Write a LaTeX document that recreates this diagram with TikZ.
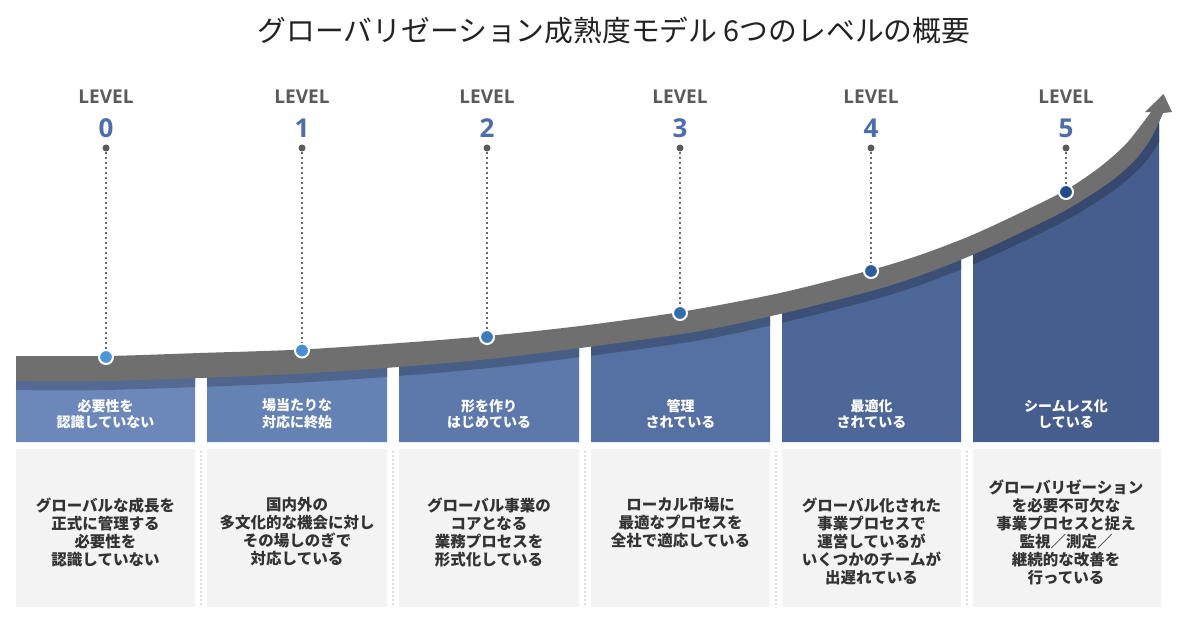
\documentclass[tikz,border=0pt]{standalone}
\usepackage{fontspec}
\setmainfont{Noto Sans CJK JP}
\newfontfamily\lvfont{Open Sans}
\definecolor{bandgray}{HTML}{6F6F6F}
\definecolor{boxgray}{HTML}{F3F3F3}
\definecolor{sepgray}{HTML}{DDDDDD}
\definecolor{lvgray}{HTML}{5A5A5A}
\definecolor{numblue}{HTML}{4C6DAC}
\definecolor{bodytext}{HTML}{333333}
\definecolor{titletext}{HTML}{222222}
\definecolor{cA}{HTML}{6C88BB}
\definecolor{cB}{HTML}{6582B4}
\definecolor{cC}{HTML}{5D79AC}
\definecolor{cD}{HTML}{5570A2}
\definecolor{cE}{HTML}{4D6798}
\definecolor{cF}{HTML}{465E8D}
\definecolor{dA}{HTML}{4B97D8}
\definecolor{dB}{HTML}{4690D2}
\definecolor{dC}{HTML}{3B7BBC}
\definecolor{dD}{HTML}{326EAD}
\definecolor{dE}{HTML}{2B5E9E}
\definecolor{dF}{HTML}{204C88}
\tikzset{
  lvlabel/.style={font=\lvfont\bfseries\fontsize{19}{21}\selectfont, text=lvgray, inner sep=0},
  lvnum/.style={font=\lvfont\bfseries\fontsize{26}{28}\selectfont, text=numblue, inner sep=0},
  topdot/.style={circle, fill=lvgray, inner sep=0, minimum size=7},
  curvedot/.style={circle, draw=white, line width=2, inner sep=0, minimum size=14},
  dotline/.style={draw=lvgray!90, line width=2, dash pattern=on 2 off 3},
  headtext/.style={font=\bfseries\fontsize{14}{16.5}\selectfont, text=white, align=center, inner sep=0},
  bodytxt/.style={font=\bfseries\fontsize{15.5}{18}\selectfont, text=bodytext, align=center, inner sep=0},
  graybox/.style={fill=boxgray, inner sep=0, anchor=north west, minimum height=158},
  sepline/.style={draw=sepgray, line width=1.2, dash pattern=on 2 off 2},
}
\begin{document}
\begin{tikzpicture}[x=1pt,y=-1pt]
\useasboundingbox (0,0) rectangle (1187,629);
\fill[white] (0,0) rectangle (1187,629);

% title
\node[font=\fontsize{28.8}{30}\selectfont, text=titletext, inner sep=0] (title) at (614,30) {グローバリゼーション成熟度モデル 6つのレベルの概要};

% blue columns under the curve
\foreach \xl/\xr/\c in {16/195/cA, 207/387/cB, 399/579/cC, 591/770/cD, 782/961/cE, 973/1159/cF}{
  \begin{scope}
    \clip (\xl,0) rectangle (\xr,442);
    \fill[\c] plot[smooth,tension=0.5] coordinates {(16,381) (106,381) (303,373.5) (489,359) (683.5,333.7) (780,314) (871,291) (920,275.5) (970,256) (1020,233) (1066,210) (1110,182) (1135,160) (1150,140) (1160,120) (1163,113)} -- (1175,113) -- (1175,442) -- (16,442) -- cycle;
    \draw[\c!78!black, line width=18] plot[smooth,tension=0.5] coordinates {(16,381) (106,381) (303,373.5) (489,359) (683.5,333.7) (780,314) (871,291) (920,275.5) (970,256) (1020,233) (1066,210) (1110,182) (1135,160) (1150,140) (1160,120) (1163,113)};
  \end{scope}
}

% gray growth band with arrow head
\fill[bandgray] (16,381) -- (16,356) -- plot[smooth,tension=0.5] coordinates {(16,356) (106,356) (200,353) (302,349.5) (400,343) (487,336) (580,326) (680,312) (780,293) (871,270) (920,255) (970,236) (1020,213) (1066,190) (1100,167) (1125,145) (1142,124) (1151,112)} -- (1145,112) -- (1163.5,94) -- (1172,112) -- (1163,113) -- plot[smooth,tension=0.5] coordinates {(1163,113) (1160,120) (1150,140) (1135,160) (1110,182) (1066,210) (1020,233) (970,256) (920,275.5) (871,291) (780,314) (683.5,333.7) (489,359) (303,373.5) (106,381) (16,381)} -- cycle;

% level labels, connectors and dots
\foreach \i/\x/\y/\dc in {0/106/357/dA, 1/302/350.5/dB, 2/487/337/dC, 3/680/313/dD, 4/871/271/dE, 5/1066/192/dF}{
  \node[lvlabel] (lv\i) at (\x,97) {LEVEL};
  \node[lvnum] (n\i) at (\x,128) {\i};
  \node[topdot] (t\i) at (\x,148) {};
  \node[curvedot, fill=\dc] (d\i) at (\x,\y) {};
  \draw[dotline] (t\i) -- (d\i);
}

% header texts
\node[headtext] (h0) at (105.5,414) {必要性を\\認識していない};
\node[headtext] (h1) at (297,414) {場当たりな\\対応に終始};
\node[headtext] (h2) at (489,414) {形を作り\\はじめている};
\node[headtext] (h3) at (680.5,414) {管理\\されている};
\node[headtext] (h4) at (871.5,414) {最適化\\されている};
\node[headtext] (h5) at (1066,414) {シームレス化\\している};

% gray boxes
\node[graybox, minimum width=179] (g0) at (16,449) {};
\node[graybox, minimum width=180] (g1) at (207,449) {};
\node[graybox, minimum width=180] (g2) at (399,449) {};
\node[graybox, minimum width=179] (g3) at (591,449) {};
\node[graybox, minimum width=179] (g4) at (782,449) {};
\node[graybox, minimum width=188] (g5) at (973,449) {};

% separators
\foreach \sx in {201,393,585,776,967}{
  \path[sepline] (\sx,451) -- (\sx,607);
}

% body texts
\node[bodytxt] (b0) at (105.5,532) {グローバルな成長を\\正式に管理する\\必要性を\\認識していない};
\node[bodytxt] (b1) at (297,532) {国内外の\\多文化的な機会に対し\\その場しのぎで\\対応している};
\node[bodytxt] (b2) at (489,532) {グローバル事業の\\コアとなる\\業務プロセスを\\形式化している};
\node[bodytxt] (b3) at (680.5,523) {ローカル市場に\\最適なプロセスを\\全社で適応している};
\node[bodytxt] (b4) at (871.5,541) {グローバル化された\\事業プロセスで\\運営しているが\\いくつかのチームが\\出遅れている};
\node[bodytxt] (b5) at (1066,532) {グローバリゼーション\\を必要不可欠な\\事業プロセスと捉え\\監視／測定／\\継続的な改善を\\行っている};
\end{tikzpicture}
\end{document}
